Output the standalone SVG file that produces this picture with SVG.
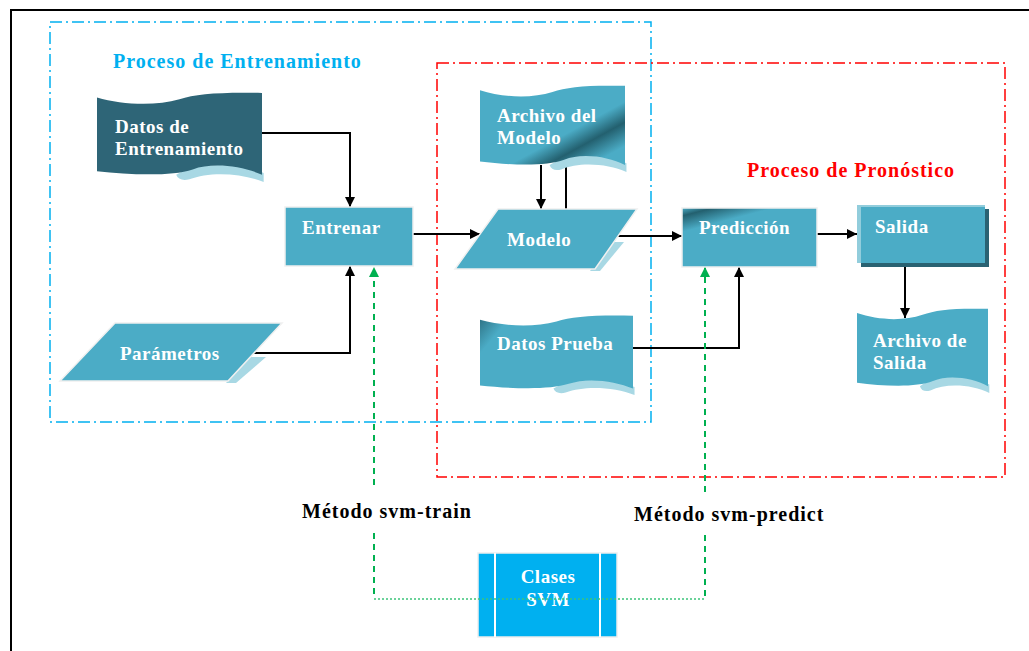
<svg xmlns="http://www.w3.org/2000/svg" width="1029" height="651" viewBox="0 0 1029 651">
  <defs>
    <style>
      .lbl { font-family: "Liberation Serif", "Times New Roman", serif; font-weight: bold; font-size: 19px; letter-spacing: 0.5px; fill: #ffffff; }
      .cap { font-family: "Liberation Serif", "Times New Roman", serif; font-weight: bold; font-size: 20px; letter-spacing: 1px; fill: #000000; }
      .title { font-family: "Liberation Serif", "Times New Roman", serif; font-weight: bold; font-size: 20px; letter-spacing: 1px; }
      .edge { fill: none; stroke: #000000; stroke-width: 2; }
      .green { fill: none; stroke: #00B050; stroke-width: 2; stroke-dasharray: 6 5; }
      .dots { fill: none; stroke: #3CC37A; stroke-width: 1.5; stroke-dasharray: 2 2; }
      .band { fill: #A8D8E4; }
      .node { stroke: #F0F0F0; stroke-width: 1.5; }
    </style>
    <marker id="ah" viewBox="0 0 10 10" refX="10" refY="5" markerWidth="10" markerHeight="10" markerUnits="userSpaceOnUse" orient="auto">
      <path d="M0,0 L10,5 L0,10 Z" fill="#000000"/>
    </marker>
    <marker id="ahg" viewBox="0 0 10 10" refX="10" refY="5" markerWidth="10" markerHeight="12" markerUnits="userSpaceOnUse" orient="auto">
      <path d="M0,0 L10,5 L0,10 Z" fill="#00B050"/>
    </marker>
    <!-- wavy document shape in a 100x100 box -->
    <path id="doc" d="M0,6 C15,14 35,16 50,8 C60,2 75,0 100,1 L100,92 C88,82 70,78 58,86 C45,94 20,92 0,88 Z"/>
    <path id="docband" d="M48,92 C60,78 86,78 101,90 L101,100 C88,90 68,88 56,97 C52,99 49,97 48,92 Z"/>
    <linearGradient id="gArch" x1="0" y1="0" x2="1" y2="1">
      <stop offset="0" stop-color="#4BACC6"/>
      <stop offset="0.6" stop-color="#4BACC6"/>
      <stop offset="0.73" stop-color="#23606F"/>
      <stop offset="0.88" stop-color="#4BACC6"/>
      <stop offset="1" stop-color="#4BACC6"/>
    </linearGradient>
    <linearGradient id="gPrueba" x1="0" y1="0" x2="1" y2="0.4">
      <stop offset="0" stop-color="#2B6E80"/>
      <stop offset="0.18" stop-color="#4BACC6"/>
      <stop offset="1" stop-color="#4BACC6"/>
    </linearGradient>
    <linearGradient id="gPred" x1="0" y1="0" x2="0.6" y2="1">
      <stop offset="0" stop-color="#4BACC6"/>
      <stop offset="0.1" stop-color="#23606F"/>
      <stop offset="0.3" stop-color="#4BACC6"/>
      <stop offset="1" stop-color="#4BACC6"/>
    </linearGradient>
  </defs>

  <rect x="0" y="0" width="1029" height="651" fill="#ffffff"/>
  <!-- page frame -->
  <rect x="11" y="10" width="1040" height="660" fill="none" stroke="#000000" stroke-width="2"/>

  <!-- process regions -->
  <rect x="50" y="22" width="601" height="400" fill="none" stroke="#00B0F0" stroke-width="1.5" stroke-dasharray="12 4 2 4"/>
  <rect x="437" y="63" width="568" height="414" fill="none" stroke="#FF0000" stroke-width="1.5" stroke-dasharray="12 4 2 4"/>
  <text class="title" x="113" y="68" fill="#00B0F0">Proceso de Entrenamiento</text>
  <text class="title" x="747" y="177" fill="#FF0000">Proceso de Pronóstico</text>

  <!-- connectors -->
  <g id="connectors">
    <path class="edge" d="M262,133 H350 V207" marker-end="url(#ah)"/>
    <path class="edge" d="M252,353 H350 V266" marker-end="url(#ah)"/>
    <path class="edge" d="M413,234 H480" marker-end="url(#ah)"/>
    <path class="edge" d="M541,165 V209" marker-end="url(#ah)"/>
    <path class="edge" d="M566,209 V153" marker-end="url(#ah)"/>
    <path class="edge" d="M617,236 H682" marker-end="url(#ah)"/>
    <path class="edge" d="M633,348 H739 V267" marker-end="url(#ah)"/>
    <path class="edge" d="M817,234 H857" marker-end="url(#ah)"/>
    <path class="edge" d="M905,265 V318" marker-end="url(#ah)"/>
    <path class="green" d="M374,485 V267" marker-end="url(#ahg)"/>
    <path class="green" d="M374,533 V599"/>
    <path class="green" d="M705,492 V267" marker-end="url(#ahg)"/>
    <path class="green" d="M705,535 V599"/>
  </g>

  <!-- nodes -->
  <g id="datos-entrenamiento">
    <use href="#docband" fill="#A8D8E4" transform="translate(97,92) scale(1.65,0.9)"/>
    <use href="#doc" fill="#2E6577" transform="translate(97,92) scale(1.65,0.9)"/>
    <text class="lbl" x="115" y="133">Datos de</text>
    <text class="lbl" x="115" y="155">Entrenamiento</text>
  </g>

  <g id="archivo-modelo">
    <use href="#docband" fill="#A8D8E4" transform="translate(480,85) scale(1.45,0.87)"/>
    <use href="#doc" fill="url(#gArch)" transform="translate(480,85) scale(1.45,0.87)"/>
    <text class="lbl" x="497" y="122">Archivo del</text>
    <text class="lbl" x="497" y="144">Modelo</text>
  </g>

  <g id="entrenar">
    <rect class="node" x="285" y="207" width="128" height="59" fill="#4BACC6"/>
    <text class="lbl" x="302" y="234">Entrenar</text>
  </g>

  <g id="modelo">
    <polygon class="band" points="612,242 624,242 600,271 590,271"/>
    <polygon class="node" points="498,209 637,209 595,269 455,269" fill="#4BACC6"/>
    <text class="lbl" x="507" y="246">Modelo</text>
  </g>

  <g id="parametros">
    <polygon class="band" points="250,357 266,357 236,383 226,383"/>
    <polygon class="node" points="115,323 282,323 228,381 60,381" fill="#4BACC6"/>
    <text class="lbl" x="120" y="360">Parámetros</text>
  </g>

  <g id="datos-prueba">
    <use href="#docband" fill="#A8D8E4" transform="translate(480,315) scale(1.53,0.8)"/>
    <use href="#doc" fill="url(#gPrueba)" transform="translate(480,315) scale(1.53,0.8)"/>
    <text class="lbl" x="497" y="350">Datos Prueba</text>
  </g>

  <g id="prediccion">
    <rect class="node" x="682" y="208" width="135" height="59" fill="url(#gPred)"/>
    <text class="lbl" x="699" y="234">Predicción</text>
  </g>

  <g id="salida">
    <rect x="861" y="209" width="128" height="58" fill="#2A6272"/>
    <rect x="857" y="205" width="128" height="58" fill="#92CDDC"/>
    <rect x="861" y="207" width="124" height="56" fill="#4BACC6"/>
    <text class="lbl" x="875" y="233">Salida</text>
  </g>

  <g id="archivo-salida">
    <use href="#docband" fill="#A8D8E4" transform="translate(857,308) scale(1.31,0.85)"/>
    <use href="#doc" fill="#4BACC6" transform="translate(857,308) scale(1.31,0.85)"/>
    <text class="lbl" x="873" y="347">Archivo de</text>
    <text class="lbl" x="873" y="369">Salida</text>
  </g>

  <g id="clases-svm">
    <rect x="478" y="553" width="139" height="84" fill="#00B0F0" stroke="#EEEEEE" stroke-width="1.5"/>
    <line x1="495" y1="553" x2="495" y2="637" stroke="#ffffff" stroke-width="2"/>
    <line x1="600" y1="553" x2="600" y2="637" stroke="#ffffff" stroke-width="2"/>
    <text class="lbl" x="548" y="583" text-anchor="middle">Clases</text>
    <text class="lbl" x="548" y="606" text-anchor="middle">SVM</text>
  </g>

  <!-- dotted links to the class box -->
  <g id="class-links">
    <path class="dots" d="M374,599 H705"/>
  </g>

  <text class="cap" x="302" y="518">Método svm-train</text>
  <text class="cap" x="634" y="521">Método svm-predict</text>
</svg>
